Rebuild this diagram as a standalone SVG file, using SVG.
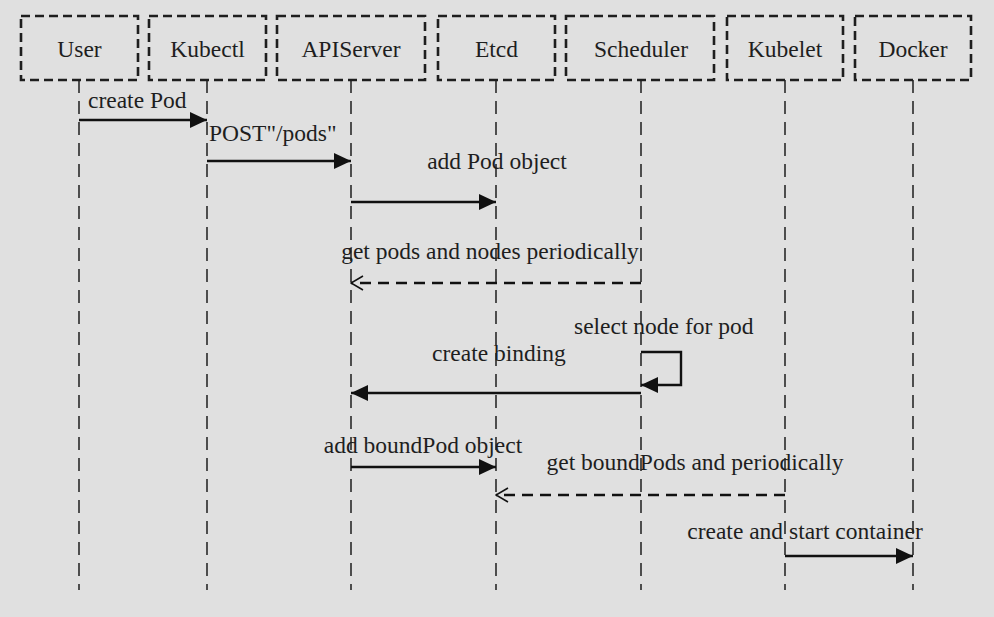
<svg xmlns="http://www.w3.org/2000/svg" width="994" height="617" viewBox="0 0 994 617">
<style>
text{font-family:"Liberation Serif","Times New Roman",serif;font-size:23.5px;fill:#1e1e1e}
.box rect{fill:none;stroke:#1e1e1e;stroke-width:2.6;stroke-dasharray:9 5}
.life{stroke:#2a2a2a;stroke-width:1.6;stroke-dasharray:13 8;fill:none}
.msg{stroke:#111;stroke-width:2.4;fill:none}
.ret{stroke:#111;stroke-width:2.4;fill:none;stroke-dasharray:11 7}
</style>
<defs>
<marker id="fa" viewBox="0 0 17 16" refX="17" refY="8" markerWidth="17" markerHeight="16" markerUnits="userSpaceOnUse" orient="auto">
<path d="M0,0 L17,8 L0,16 Z" fill="#111"/>
</marker>
<marker id="oa" viewBox="0 0 14 16" refX="13" refY="8" markerWidth="14" markerHeight="16" markerUnits="userSpaceOnUse" orient="auto">
<path d="M1,1 L13,8 L1,15" fill="none" stroke="#111" stroke-width="1.6"/>
</marker>
</defs>
<rect width="994" height="617" fill="#e0e0e0"/>
<g id="lifelines">
<line class="life" x1="79" y1="80" x2="79" y2="590"/>
<line class="life" x1="207" y1="80" x2="207" y2="590"/>
<line class="life" x1="351" y1="80" x2="351" y2="590"/>
<line class="life" x1="496" y1="80" x2="496" y2="590"/>
<line class="life" x1="641" y1="80" x2="641" y2="590"/>
<line class="life" x1="785" y1="80" x2="785" y2="590"/>
<line class="life" x1="913" y1="80" x2="913" y2="590"/>
</g>
<g id="user" class="box"><rect x="21" y="16" width="117" height="64"/><text x="79.5" y="57" text-anchor="middle">User</text></g>
<g id="kubectl" class="box"><rect x="149" y="16" width="117" height="64"/><text x="207.5" y="57" text-anchor="middle">Kubectl</text></g>
<g id="apiserver" class="box"><rect x="277" y="16" width="148" height="64"/><text x="351" y="57" text-anchor="middle">APIServer</text></g>
<g id="etcd" class="box"><rect x="438" y="16" width="117" height="64"/><text x="496.5" y="57" text-anchor="middle">Etcd</text></g>
<g id="scheduler" class="box"><rect x="566" y="16" width="148" height="64"/><text x="641" y="57" text-anchor="middle">Scheduler</text></g>
<g id="kubelet" class="box"><rect x="727" y="16" width="116" height="64"/><text x="785" y="57" text-anchor="middle">Kubelet</text></g>
<g id="docker" class="box"><rect x="855" y="16" width="116" height="64"/><text x="913" y="57" text-anchor="middle">Docker</text></g>
<g id="connectors">
<line class="msg" x1="79" y1="120" x2="207" y2="120" marker-end="url(#fa)"/>
<text x="88" y="108">create Pod</text>
<line class="msg" x1="207" y1="161" x2="351" y2="161" marker-end="url(#fa)"/>
<text x="209" y="141">POST"/pods"</text>
<line class="msg" x1="351" y1="202" x2="496" y2="202" marker-end="url(#fa)"/>
<text x="497" y="169" text-anchor="middle">add Pod object</text>
<line class="ret" x1="641" y1="283" x2="351" y2="283" marker-end="url(#oa)"/>
<text x="490" y="259" text-anchor="middle">get pods and nodes periodically</text>
<path class="msg" d="M641,352 H681 V385 H641" marker-end="url(#fa)"/>
<text x="574" y="334">select node for pod</text>
<line class="msg" x1="641" y1="393" x2="351" y2="393" marker-end="url(#fa)"/>
<text x="499" y="361" text-anchor="middle">create binding</text>
<line class="msg" x1="351" y1="467" x2="496" y2="467" marker-end="url(#fa)"/>
<text x="423" y="453" text-anchor="middle">add boundPod object</text>
<line class="ret" x1="785" y1="495" x2="496" y2="495" marker-end="url(#oa)"/>
<text x="695" y="470" text-anchor="middle">get boundPods and periodically</text>
<line class="msg" x1="785" y1="556" x2="913" y2="556" marker-end="url(#fa)"/>
<text x="805" y="539" text-anchor="middle">create and start container</text>
</g>
</svg>
